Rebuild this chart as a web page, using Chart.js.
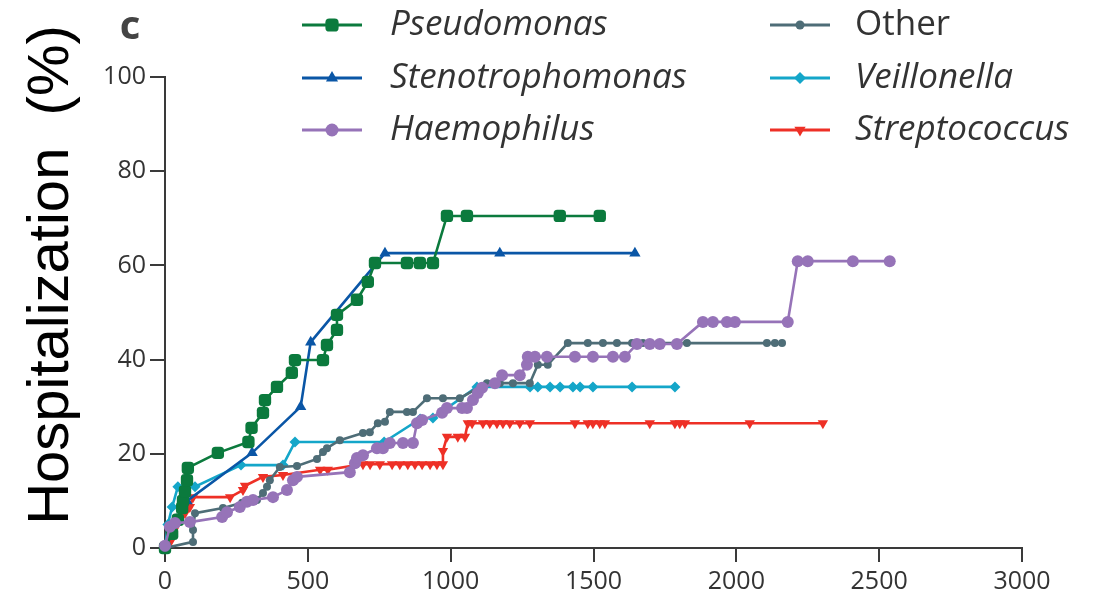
<!DOCTYPE html>
<html>
<head>
<meta charset="utf-8">
<script src="https://cdn.jsdelivr.net/npm/chart.js@4.4.1/dist/chart.umd.min.js"></script>
<style>
  html, body { margin: 0; padding: 0; background: #fff; }
</style>
</head>
<body>
<canvas id="hosp" width="1099" height="595"></canvas>
<script>
// tick values
const xTicks = [0, 500, 1000, 1500, 2000, 2500, 3000];
const yTicks = [0, 20, 40, 60, 80, 100];

// days since baseline / cumulative hospitalisation (%) per organism
const pseudomonasDays = [0, 25, 45, 60, 63, 70, 77, 80, 185, 292, 303, 343, 350, 392, 444, 455, 553, 567, 602, 602, 672, 710, 735, 847, 892, 938, 987, 1057, 1382, 1522];
const pseudomonasPct = [0, 3, 6, 8.5, 10, 12, 14.4, 17, 20.2, 22.5, 25.5, 28.7, 31.4, 34.2, 37.2, 39.9, 39.9, 43.1, 46.3, 49.5, 52.7, 56.5, 60.5, 60.5, 60.5, 60.5, 70.5, 70.5, 70.5, 70.5];

const stenoDays = [0, 40, 77, 305, 475, 510, 770, 1172, 1645];
const stenoPct = [0, 6, 10, 20.2, 30, 43.7, 62.6, 62.6, 62.6];

const haemophilusDays = [0, 17, 35, 87, 200, 217, 262, 287, 308, 378, 427, 448, 462, 647, 665, 672, 693, 742, 763, 787, 833, 868, 882, 900, 970, 987, 1040, 1057, 1078, 1095, 1110, 1155, 1180, 1242, 1267, 1270, 1295, 1337, 1435, 1498, 1568, 1610, 1652, 1697, 1732, 1792, 1883, 1918, 1967, 1995, 2180, 2215, 2250, 2408, 2537];
const haemophilusPct = [0.5, 4.5, 5.3, 5.5, 6.6, 7.6, 8.7, 9.8, 10.2, 10.8, 12.3, 14.4, 15.1, 16.1, 18.0, 19.1, 19.7, 21.2, 21.2, 22.3, 22.3, 22.3, 26.5, 27.2, 28.7, 29.7, 29.7, 29.7, 31.4, 32.9, 34.0, 35.0, 36.7, 36.7, 38.9, 40.6, 40.6, 40.6, 40.6, 40.6, 40.6, 40.6, 43.3, 43.3, 43.3, 43.3, 48.0, 48.0, 48.0, 48.0, 48.0, 60.9, 60.9, 60.9, 60.9];

const otherDays = [0, 98, 98, 105, 203, 270, 322, 343, 357, 367, 402, 462, 532, 553, 567, 612, 693, 717, 745, 770, 787, 847, 868, 917, 973, 1032, 1127, 1172, 1218, 1277, 1305, 1340, 1410, 1480, 1533, 1582, 1635, 1673, 1827, 2107, 2135, 2160];
const otherPct = [0, 1.3, 3.8, 7.4, 8.5, 9.6, 10.2, 11.7, 13.0, 14.4, 17.2, 17.4, 18.9, 20.4, 21.2, 22.9, 24.4, 24.6, 26.5, 26.8, 28.9, 28.9, 28.9, 31.8, 31.8, 31.8, 35.0, 35.0, 35.0, 35.0, 38.9, 38.9, 43.5, 43.5, 43.5, 43.5, 43.5, 43.5, 43.5, 43.5, 43.5, 43.5];

const veillonellaDays = [0, 10, 25, 45, 105, 266, 413, 455, 767, 893, 938, 1092, 1278, 1305, 1348, 1383, 1428, 1453, 1498, 1635, 1785];
const veillonellaPct = [0, 5, 8.7, 13.0, 13.0, 17.6, 17.6, 22.5, 22.5, 27.4, 27.6, 34.2, 34.2, 34.2, 34.2, 34.2, 34.2, 34.2, 34.2, 34.2, 34.2];

const streptoDays = [0, 17, 70, 87, 98, 228, 273, 280, 343, 413, 543, 570, 693, 718, 752, 795, 822, 850, 875, 900, 928, 952, 973, 973, 987, 1025, 1050, 1060, 1075, 1113, 1137, 1162, 1183, 1207, 1242, 1277, 1435, 1480, 1498, 1522, 1540, 1697, 1785, 1802, 1820, 2047, 2303];
const streptoPct = [0, 1.1, 7.4, 8.7, 10.8, 10.8, 12.3, 13.2, 15.1, 15.5, 16.6, 16.6, 17.8, 17.8, 17.8, 17.8, 17.8, 17.8, 17.8, 17.8, 17.8, 17.8, 17.8, 20.6, 23.6, 23.6, 23.6, 26.5, 26.5, 26.5, 26.5, 26.5, 26.5, 26.5, 26.5, 26.5, 26.5, 26.5, 26.5, 26.5, 26.5, 26.5, 26.5, 26.5, 26.5, 26.5, 26.5];

function pairs(xs, ys) {
    return xs.map((x, i) => ({ x: x, y: ys[i] }));
}

function series(label, xs, ys, color, style, radius, extra) {
    return Object.assign({
        label: label,
        data: pairs(xs, ys),
        borderColor: color,
        backgroundColor: color,
        pointBackgroundColor: color,
        pointBorderColor: color,
        pointBorderWidth: 0,
        pointStyle: style,
        pointRadius: radius,
        borderWidth: 2.6,
        tension: 0,
        clip: false,
        italicName: true
    }, extra || {});
}

const datasets = [
    series('Pseudomonas', pseudomonasDays, pseudomonasPct, '#0b7a3d', 'rectRounded', 7.2, { order: 2 }),
    series('Stenotrophomonas', stenoDays, stenoPct, '#0a56a6', 'triangle', 6.5, { order: 3 }),
    series('Haemophilus', haemophilusDays, haemophilusPct, '#9673b8', 'circle', 6, { order: 0 }),
    series('Other', otherDays, otherPct, '#4e6d77', 'circle', 4, { order: 1, italicName: false }),
    series('Veillonella', veillonellaDays, veillonellaPct, '#14a6c9', 'rectRot', 5.5, { order: 4 }),
    series('Streptococcus', streptoDays, streptoPct, '#ee3026', 'triangle', 6, { order: 5, pointRotation: 180 })
];

const axisColor = '#3a3a3a';
const tickFont = { family: '"Open Sans"', size: 25 };
const plainNumber = v => String(v);

// two-column legend across the top
const columnLegend = {
    id: 'columnLegend',
    afterDraw(chart) {
        const ctx = chart.ctx;
        const cols = [{ line: 302, text: 390 }, { line: 770, text: 855 }];
        const rows = [25, 78, 130];
        ctx.save();
        chart.data.datasets.forEach((ds, i) => {
            const col = cols[Math.floor(i / 3)];
            const y = rows[i % 3];
            ctx.strokeStyle = ds.borderColor;
            ctx.fillStyle = ds.borderColor;
            ctx.lineWidth = 3;
            ctx.beginPath();
            ctx.moveTo(col.line, y);
            ctx.lineTo(col.line + 60, y);
            ctx.stroke();
            Chart.helpers.drawPoint(ctx, {
                pointStyle: ds.pointStyle,
                radius: ds.pointRadius + 0.5,
                rotation: ds.pointRotation || 0,
                borderWidth: 0
            }, col.line + 30, y);

            ctx.font = (ds.italicName ? 'italic ' : '') + '35px "Open Sans"';
            ctx.fillStyle = '#333';
            ctx.textBaseline = 'middle';
            ctx.textAlign = 'left';
            ctx.fillText(ds.label, col.text, y);
        });
        ctx.restore();
    }
};

// axis title and panel letter
const sideText = {
    id: 'sideText',
    afterDraw(chart) {
        const ctx = chart.ctx;
        ctx.save();
        ctx.fillStyle = '#000';
        ctx.font = '58px "Liberation Sans"';
        ctx.textAlign = 'center';
        ctx.textBaseline = 'middle';
        ctx.translate(52, 275);
        ctx.rotate(-Math.PI / 2);
        ctx.fillText('Hospitalization  (%)', 0, 0);
        ctx.restore();

        ctx.save();
        ctx.fillStyle = '#444';
        ctx.font = 'bold 40px "Open Sans"';
        ctx.textAlign = 'center';
        ctx.textBaseline = 'middle';
        ctx.fillText('c', 130, 28);
        ctx.restore();
    }
};

new Chart(document.getElementById('hosp'), {
    type: 'line',
    data: { datasets: datasets },
    options: {
        responsive: false,
        animation: false,
        devicePixelRatio: 1,
        layout: { padding: { top: 77, right: 77, left: 0, bottom: 0 } },
        plugins: {
            legend: { display: false },
            tooltip: { enabled: false }
        },
        scales: {
            x: {
                type: 'linear',
                min: 0,
                max: 3000,
                afterBuildTicks: scale => { scale.ticks = xTicks.map(v => ({ value: v })); },
                afterFit: scale => { scale.height = 47; },
                grid: { drawOnChartArea: false, tickLength: 14, color: axisColor, lineWidth: 2 },
                border: { color: axisColor, width: 2 },
                ticks: { font: tickFont, color: '#333', padding: 5, maxRotation: 0, callback: plainNumber }
            },
            y: {
                min: 0,
                max: 100,
                afterBuildTicks: scale => { scale.ticks = yTicks.map(v => ({ value: v })); },
                afterFit: scale => { scale.width = 165; },
                grid: { drawOnChartArea: false, tickLength: 15, color: axisColor, lineWidth: 2 },
                border: { color: axisColor, width: 2 },
                ticks: { font: tickFont, color: '#333', padding: 4, callback: plainNumber }
            }
        }
    },
    plugins: [columnLegend, sideText]
});
</script>
</body>
</html>
